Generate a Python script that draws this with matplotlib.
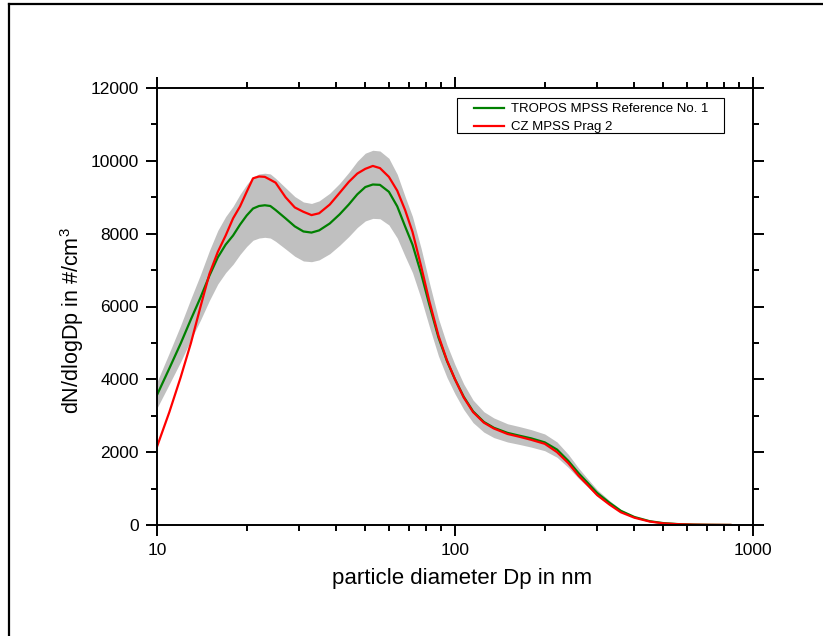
import numpy as np
import matplotlib
matplotlib.use('Agg')
import matplotlib.pyplot as plt
from matplotlib.lines import Line2D
from matplotlib.patches import Rectangle
from matplotlib.ticker import MultipleLocator, LogLocator, NullFormatter

plt.rcParams['font.family'] = ['Liberation Sans', 'DejaVu Sans']
plt.rcParams['mathtext.default'] = 'regular'

# particle diameters in nm
dp = [10, 11, 12, 13, 14, 15, 16, 17, 18, 19, 20, 21, 22, 23, 24, 25, 27, 29, 31, 33,
      35, 38, 41, 44, 47, 50, 53, 56, 60, 64, 68, 72, 77, 82, 88, 94, 100, 107, 115, 125,
      135, 150, 165, 180, 200, 220, 240, 260, 280, 300, 330, 360, 400, 450, 500, 560, 630,
      710, 800, 840]

# TROPOS MPSS Reference No. 1
tropos = [3570, 4300, 4980, 5650, 6250, 6850, 7350, 7700, 7950, 8250, 8500, 8690, 8760, 8780,
          8760, 8650, 8420, 8200, 8060, 8030, 8090, 8280, 8530, 8800, 9080, 9280, 9350, 9340,
          9150, 8750, 8200, 7700, 6900, 6050, 5150, 4500, 4000, 3520, 3120, 2830, 2670, 2530,
          2450, 2380, 2270, 2070, 1760, 1420, 1140, 880, 610, 390, 220, 105, 52, 25, 12, 6, 3, 2]

# CZ MPSS Prag 2
prag = [2150, 3100, 4050, 5000, 6000, 6900, 7500, 7950, 8420, 8750, 9150, 9520, 9570, 9560,
        9480, 9400, 9000, 8720, 8600, 8510, 8560, 8800, 9120, 9420, 9650, 9780, 9860, 9800,
        9560, 9180, 8650, 8050, 7100, 6150, 5200, 4520, 4000, 3500, 3100, 2810, 2650, 2500,
        2420, 2340, 2230, 2000, 1700, 1350, 1080, 820, 560, 350, 200, 95, 45, 22, 10, 5, 3, 2]

# grey uncertainty band of the reference
band_lo = [3210, 3870, 4480, 5090, 5630, 6170, 6620, 6930, 7160, 7430, 7650, 7820, 7880, 7900,
           7880, 7790, 7580, 7380, 7250, 7230, 7280, 7450, 7680, 7920, 8170, 8350, 8420, 8410,
           8240, 7880, 7380, 6930, 6210, 5450, 4640, 4050, 3600, 3170, 2810, 2550, 2400, 2280,
           2210, 2140, 2040, 1860, 1580, 1280, 1030, 790, 550, 350, 200, 95, 47, 23, 11, 5, 3, 2]
band_hi = [3930, 4730, 5480, 6220, 6880, 7540, 8090, 8470, 8750, 9080, 9350, 9560, 9640, 9660,
           9640, 9520, 9260, 9020, 8870, 8830, 8900, 9110, 9380, 9680, 9990, 10210, 10290, 10270,
           10070, 9630, 9020, 8470, 7590, 6660, 5670, 4950, 4400, 3870, 3430, 3110, 2940, 2780,
           2700, 2620, 2500, 2280, 1940, 1560, 1250, 970, 670, 430, 240, 115, 57, 28, 13, 7, 3, 2]

W, H = 823, 636
fig = plt.figure(figsize=(W/100, H/100), dpi=100)
ax = fig.add_axes([157/W, 1-525/H, (753-157)/W, (525-88)/H])

ax.fill_between(dp, band_lo, band_hi, color='#c0c0c0', lw=0)
ax.plot(dp, tropos, color='#008000', lw=1.6, label='TROPOS MPSS Reference No. 1')
ax.plot(dp, prag, color='#ff0000', lw=1.6, label='CZ MPSS Prag 2')

ax.set_xscale('log')
ax.set_xlim(10, 1000)
ax.set_ylim(0, 12000)
ax.yaxis.set_major_locator(MultipleLocator(2000))
ax.yaxis.set_minor_locator(MultipleLocator(1000))
ax.xaxis.set_minor_locator(LogLocator(base=10, subs=np.arange(2, 10)))
ax.xaxis.set_minor_formatter(NullFormatter())
ax.set_xticks([10, 100, 1000])
ax.set_xticklabels(['10', '100', '1000'])

for s in ax.spines.values():
    s.set_linewidth(1.4)
ax.tick_params(which='both', direction='out', top=True, right=True, labelsize=12.5, width=1.4)
ax.tick_params(which='major', length=8, pad=5)
ax.tick_params(which='minor', length=4)

ax.set_xlabel('particle diameter Dp in nm', fontsize=16)
ax.set_ylabel('dN/dlogDp in #/cm$^3$', fontsize=15.5)
ax.xaxis.set_label_coords((462-157)/596, -(568-525)/437)
ax.yaxis.set_label_coords(-(157-86)/596, (525-321)/437)

leg = ax.legend(loc='upper left', bbox_to_anchor=(474/W, 1-103/H), bbox_transform=fig.transFigure,
                fontsize=9.5, frameon=False, borderpad=0, labelspacing=0.45,
                handlelength=2.3, handletextpad=0.5, borderaxespad=0)
fig.add_artist(Rectangle((457/W, 1-133/H), (724-457)/W, 35/H, transform=fig.transFigure,
                         fill=False, edgecolor='black', lw=0.8))

# outer frame of the original graph page
fig.add_artist(Line2D([9/W, 9/W], [0, 1-4/H], color='black', lw=1.6, transform=fig.transFigure))
fig.add_artist(Line2D([9/W, 1], [1-4/H, 1-4/H], color='black', lw=1.6, transform=fig.transFigure))

fig.savefig('out.png', dpi=100)
